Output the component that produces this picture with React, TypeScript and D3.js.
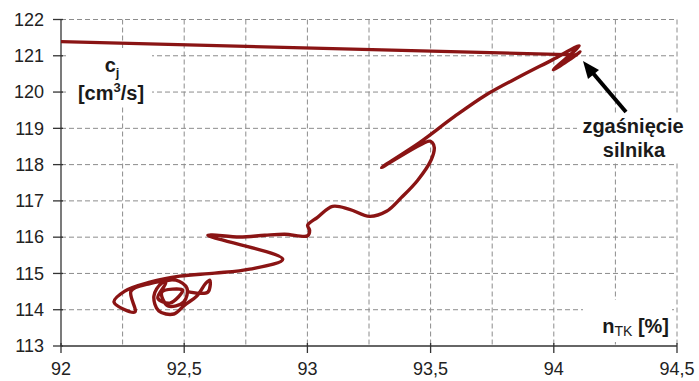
import React from 'react';
import * as d3 from 'd3';

// engine efficiency n_TK [%] and fuel consumption c_j [cm3/s], in time order
const nTK = [
  92.523, 92.596, 92.604, 92.588, 92.551, 92.502, 92.458, 92.397, 92.377, 92.409,
  92.466, 92.511, 92.498, 92.434, 92.409, 92.494, 92.442, 92.393, 92.425, 92.353,
  92.284, 92.300, 92.215, 92.259, 92.361, 92.482, 92.624, 92.766, 92.900, 92.596,
  92.725, 92.827, 92.908, 93.001, 93.009, 93.001, 93.041, 93.102, 93.171, 93.252,
  93.321, 93.382, 93.447, 93.503, 93.515, 93.507, 93.495, 93.301, 93.455, 93.596,
  93.726, 93.860, 93.994, 94.103, 93.998, 94.062, 94.107, 94.091, 92.0,
];
const cj = [
  114.486, 114.486, 114.816, 114.733, 114.376, 114.129, 113.882, 113.964, 114.376, 114.733,
  114.816, 114.596, 114.212, 114.102, 114.486, 114.541, 114.184, 114.321, 114.761, 114.706,
  114.514, 113.937, 114.212, 114.514, 114.761, 114.926, 115.008, 115.118, 115.393, 116.052,
  116.003, 116.052, 116.080, 116.038, 116.190, 116.327, 116.547, 116.849, 116.766, 116.574,
  116.712, 117.096, 117.563, 118.140, 118.470, 118.607, 118.648, 117.920, 118.607, 119.321,
  119.926, 120.420, 120.887, 121.272, 120.613, 120.887, 121.107, 121.025, 121.390,
];

const xTicks = [92, 92.5, 93, 93.5, 94, 94.5];
const xGrid = [92.25, 92.5, 92.75, 93, 93.25, 93.5, 93.75, 94, 94.25, 94.5];
const yTicks = [113, 114, 115, 116, 117, 118, 119, 120, 121, 122];

const width = 699;
const height = 381;

const App = () => {
  const x = d3.scaleLinear().domain([92, 94.5]).range([61, 677]);
  const y = d3.scaleLinear().domain([113, 122]).range([346, 19.5]);

  const points: [number, number][] = nTK.map((v, i) => [v, cj[i]]);
  // smoothed run up to engine shutdown, then a straight drop-off line to the left
  const smooth = d3.line<[number, number]>()
    .x(d => x(d[0]))
    .y(d => y(d[1]))
    .curve(d3.curveCatmullRom.alpha(0.5));
  const straight = d3.line<[number, number]>()
    .x(d => x(d[0]))
    .y(d => y(d[1]));

  const font = 'Liberation Sans, Arial, sans-serif';
  const gridColor = '#8c8c8c';
  const curveColor = '#8a1414';

  return (
    <svg width={width} height={height} style={{ position: 'absolute', left: 0, top: 0 }}
      fontFamily={font}>
      <rect width={width} height={height} fill="#fff" />
      <defs>
        <clipPath id="plot">
          <rect x={x(92)} y={y(122) - 3} width={x(94.5) - x(92) + 3} height={y(113) - y(122) + 3} />
        </clipPath>
      </defs>

      {/* dashed grid */}
      {xGrid.map(v => (
        <line key={'gx' + v} x1={x(v)} x2={x(v)} y1={y(122)} y2={y(113)}
          stroke={gridColor} strokeWidth={1} strokeDasharray="5,3" />
      ))}
      {yTicks.filter(v => v > 113).map(v => (
        <line key={'gy' + v} x1={x(92)} x2={x(94.5)} y1={y(v)} y2={y(v)}
          stroke={gridColor} strokeWidth={1} strokeDasharray="5,3" />
      ))}

      {/* white label boxes cover the grid */}
      <rect x={68} y={48} width={84} height={58} fill="#fff" />
      <rect x={583} y={300} width={89} height={42} fill="#fff" />
      <rect x={577} y={113} width={112} height={49} fill="#fff" />

      {/* axes */}
      <line x1={x(92)} x2={x(92)} y1={y(122)} y2={y(113)} stroke="#333" strokeWidth={1.3} />
      <line x1={x(92)} x2={x(94.5)} y1={y(113)} y2={y(113)} stroke="#333" strokeWidth={1.3} />
      {yTicks.map(v => (
        <g key={'ty' + v}>
          <line x1={x(92) - 8} x2={x(92) + 2} y1={y(v)} y2={y(v)} stroke="#333" strokeWidth={1.3} />
          <text x={44} y={y(v)} dy="0.35em" textAnchor="end" fontSize={18} fill="#222">{v}</text>
        </g>
      ))}
      {xTicks.map(v => (
        <g key={'tx' + v}>
          <line x1={x(v)} x2={x(v)} y1={y(113) - 3} y2={y(113) + 7} stroke="#333" strokeWidth={1.3} />
          <text x={x(v)} y={375} textAnchor="middle" fontSize={18} fill="#222">
            {String(v).replace('.', ',')}
          </text>
        </g>
      ))}

      {/* data curve */}
      <g clipPath="url(#plot)" fill="none" stroke={curveColor} strokeWidth={3.4}
        strokeLinejoin="round" strokeLinecap="round">
        <path d={smooth(points.slice(0, -1)) || ''} />
        <path d={straight(points.slice(-2)) || ''} />
      </g>

      {/* axis titles */}
      <text x={112} y={72} textAnchor="middle" fontSize={20} fontWeight="bold" fill="#1a1a1a">
        c<tspan fontSize={13} dy={5}>j</tspan>
      </text>
      <text x={111} y={100} textAnchor="middle" fontSize={20} fontWeight="bold" fill="#1a1a1a">
        [cm<tspan fontSize={13} dy={-8}>3</tspan><tspan dy={8}>/s]</tspan>
      </text>
      <text x={669} y={333} textAnchor="end" fontSize={20} fontWeight="bold" fill="#1a1a1a">
        n<tspan fontSize={14} fontWeight="normal" dy={3}>TK</tspan><tspan dy={-3}> [%]</tspan>
      </text>

      {/* annotation */}
      <text x={633} y={133} textAnchor="middle" fontSize={20} fontWeight="bold" fill="#1a1a1a">zgaśnięcie</text>
      <text x={634} y={157} textAnchor="middle" fontSize={20} fontWeight="bold" fill="#1a1a1a">silnika</text>
      <line x1={626} y1={112} x2={592} y2={72} stroke="#000" strokeWidth={4} />
      <path d="M583,61 L599,70 L588,79 Z" fill="#000" />
    </svg>
  );
};

export default App;
